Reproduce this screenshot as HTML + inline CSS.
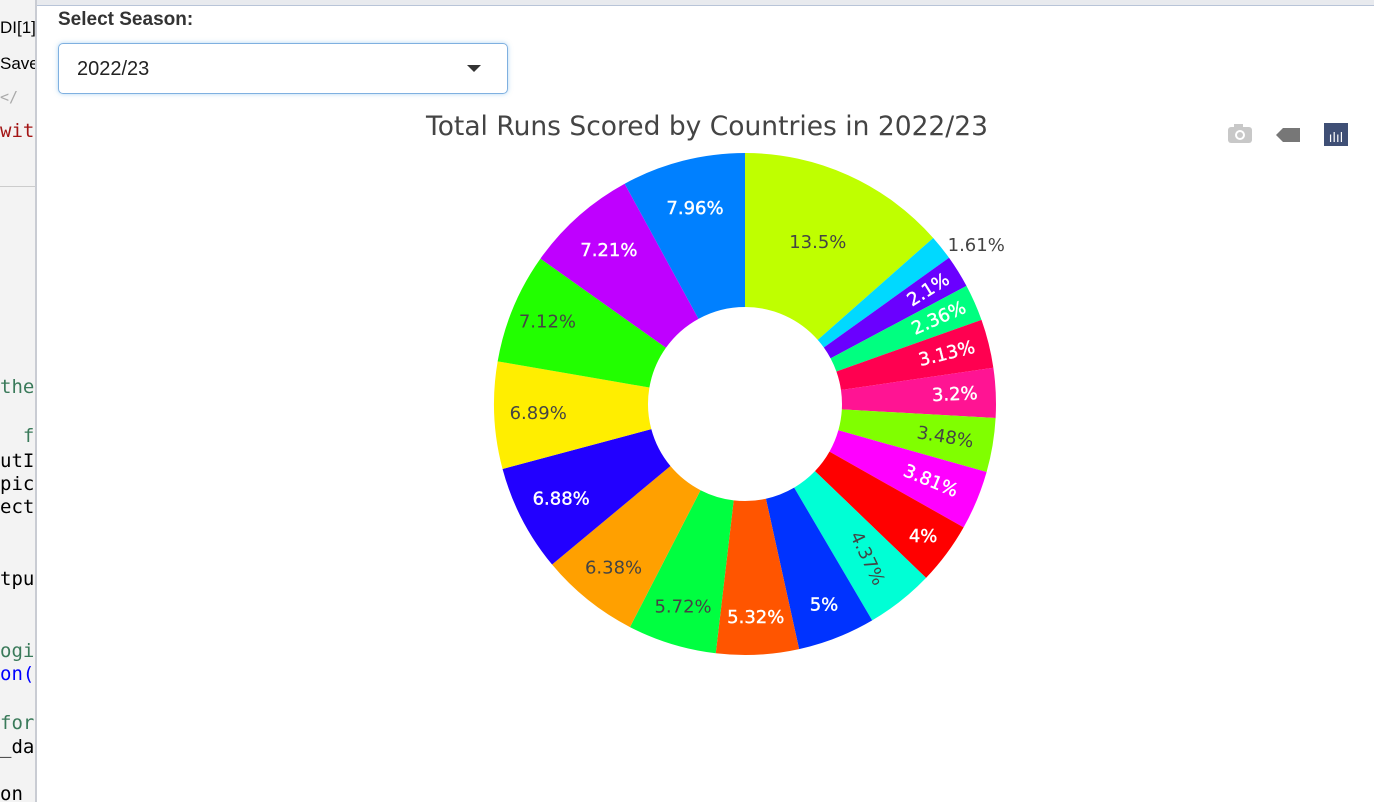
<!DOCTYPE html>
<html><head><meta charset="utf-8"><style>
body{margin:0;width:1374px;height:802px;overflow:hidden;background:#fff;font-family:"Liberation Sans",sans-serif;position:relative}
#ide{position:absolute;left:0;top:0;width:35px;height:802px;background:#f3f3f3;border-right:2px solid #c9ccd3;overflow:hidden}
#ide div{position:absolute;left:0;font-family:"DejaVu Sans Mono",monospace;font-size:19px;white-space:nowrap}
#topbar{position:absolute;left:37px;top:0;width:1337px;height:5px;background:#e8eaee;border-bottom:1px solid #b8c4d8}
#lbl{position:absolute;left:58px;top:9px;font-weight:bold;font-size:19px;color:#333}
#sel{position:absolute;left:58px;top:43px;width:450px;height:51px;border:1px solid #7fb0e0;border-radius:5px;box-shadow:0 0 5px rgba(102,175,233,.5);box-sizing:border-box}
#sel span{position:absolute;left:18px;top:14px;font-size:20px;color:#222}
#sel i{position:absolute;right:26px;top:21px;width:0;height:0;border-left:7px solid transparent;border-right:7px solid transparent;border-top:7px solid #333}
</style></head><body>
<div id="ide">
<div style="top:18px;font-family:'Liberation Sans';font-size:17px">DI[1]</div>
<div style="top:54px;font-family:'Liberation Sans';font-size:17px">Save</div>
<div style="top:88px;color:#aaa;font-size:15px">&lt;/</div>
<div style="top:120px;color:#a31515">with</div>
<div style="top:186px;width:35px;border-top:1px solid #ccc"></div>
<div style="top:376px;color:#3a7a5a">the</div>
<div style="top:425px;color:#3a7a5a">&nbsp;&nbsp;fo</div>
<div style="top:450px">utI</div>
<div style="top:473px">pice</div>
<div style="top:496px">ect</div>
<div style="top:568px">tpu</div>
<div style="top:640px;color:#3a7a5a">ogi</div>
<div style="top:663px;color:#0000ff">on(i</div>
<div style="top:712px;color:#3a7a5a">for</div>
<div style="top:736px">_da</div>
<div style="top:783px">on</div>
</div>
<div id="topbar"></div>
<div id="lbl">Select Season:</div>
<div id="sel"><span>2022/23</span><i></i></div>
<svg id="chart" width="1374" height="802" style="position:absolute;left:0;top:0">
<text x="707" y="135" text-anchor="middle" font-family="DejaVu Sans,sans-serif" font-size="26.5" fill="#444">Total Runs Scored by Countries in 2022/23</text>
<g>
<g><rect x="1228" y="127" width="24" height="16" rx="3" fill="#c8c8c8"/><rect x="1234" y="124" width="9" height="5" fill="#c8c8c8"/><circle cx="1240" cy="135" r="5" fill="#fff"/><circle cx="1240" cy="135" r="3" fill="#c8c8c8"/></g>
<g><polygon points="1276,135 1283,128 1300,128 1300,142 1283,142" fill="#777"/></g>
<g><rect x="1324" y="123" width="24" height="23" fill="#3f4f75"/><text x="1336" y="142" text-anchor="middle" font-size="13" fill="#fff" font-family="DejaVu Sans">ılıl</text></g>
</g>
<g id="slices"></g>
</svg>
<script>
const categories=["C1","C2","C3","C4","C5","C6","C7","C8","C9","C10","C11","C12","C13","C14","C15","C16","C17","C18","C19"];
const values=[13.5,1.61,2.1,2.36,3.13,3.2,3.48,3.81,4,4.37,5,5.32,5.72,6.38,6.88,6.89,7.12,7.21,7.96];
const colors=["#bfff00","#00d9ff","#6a00ff","#00ff80","#ff0050","#ff1493","#80ff00","#ff00ff","#ff0000","#00ffd5","#0033ff","#ff5500","#00ff40","#ffa000","#2200ff","#ffee00","#22ff00","#bf00ff","#0080ff"];
const textColors=["#444","#444","#fff","#fff","#fff","#fff","#444","#fff","#fff","#444","#fff","#fff","#444","#444","#fff","#444","#444","#fff","#fff"];
const textModes=["h","out","t","t","t","t","t","t","h","r","h","h","h","h","h","h","h","h","h"];
const labelRadii=[177,282,216,212,208,210,203,201,222,197,216,214,212,210,207,207,214,205,202];
const cx=745,cy=404,R=251,r0=97;
const g=document.getElementById('slices');
const NS="http://www.w3.org/2000/svg";
const total=values.reduce((a,b)=>a+b,0);
function pt(a,rad){return [cx+rad*Math.sin(a),cy-rad*Math.cos(a)];}
let acc=0;
values.forEach((v,i)=>{
  const a0=acc/total*2*Math.PI; acc+=v; const a1=acc/total*2*Math.PI;
  const lg=(a1-a0)>Math.PI?1:0;
  const p1=pt(a0,R),p2=pt(a1,R),p3=pt(a1,r0),p4=pt(a0,r0);
  const path=document.createElementNS(NS,'path');
  path.setAttribute('d',`M${p1}A${R},${R} 0 ${lg} 1 ${p2}L${p3}A${r0},${r0} 0 ${lg} 0 ${p4}Z`);
  path.setAttribute('fill',colors[i]);
  
  
  g.appendChild(path);
  const am=(a0+a1)/2, deg=am*180/Math.PI;
  const t=document.createElementNS(NS,'text');
  t.textContent=(+v.toFixed(2))+'%';
  t.setAttribute('font-family','DejaVu Sans,sans-serif');
  t.setAttribute('font-size','18');
  t.setAttribute('fill',textColors[i]);
  if(textColors[i]==='#fff'){t.setAttribute('stroke','#fff');t.setAttribute('stroke-width','0.4');}
  t.setAttribute('dominant-baseline','central');
  if(textModes[i]==='out'){
    const p=pt(am,labelRadii[i]);
    t.setAttribute('x',p[0]-18);t.setAttribute('y',p[1]+17);
  } else {
    const p=pt(am,labelRadii[i]);
    t.setAttribute('x',p[0]);t.setAttribute('y',p[1]);
    t.setAttribute('text-anchor','middle');
    let rot=0;
    if(textModes[i]==='t'){rot=deg-90;}
    if(textModes[i]==='r'){rot=deg-90+13;}
    if(rot) t.setAttribute('transform',`rotate(${rot} ${p[0]} ${p[1]})`);
  }
  
  
  g.appendChild(t);
});
</script>
</body></html>
